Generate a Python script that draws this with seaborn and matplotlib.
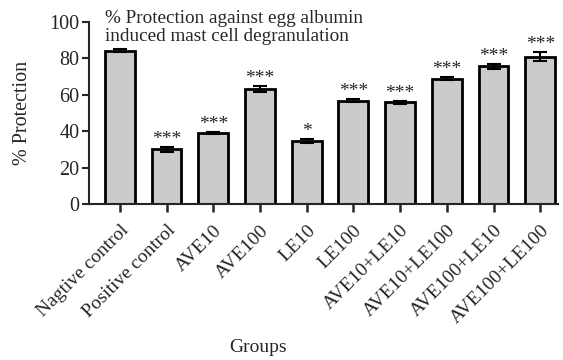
import matplotlib
matplotlib.use("Agg")
import matplotlib.pyplot as plt
import seaborn as sns
import pandas as pd
import numpy as np

groups = ["Nagtive control", "Positive control", "AVE10", "AVE100", "LE10", "LE100",
          "AVE10+LE10", "AVE10+LE100", "AVE100+LE10", "AVE100+LE100"]
protection = [84.3, 30.0, 39.2, 63.3, 34.6, 56.8, 55.8, 68.9, 75.6, 80.8]
errors = [0.6, 1.5, 0.5, 1.5, 1.0, 0.9, 0.9, 1.0, 1.5, 2.5]
stars = ["", "***", "***", "***", "*", "***", "***", "***", "***", "***"]

sns.set_style("ticks")
plt.rcParams["font.family"] = ["Liberation Serif", "DejaVu Serif"]

df = pd.DataFrame({"Groups": groups, "Protection": protection})

fig = plt.figure(figsize=(5.63, 3.6), dpi=100)
ax = fig.add_axes([89/563, 1-204/360, (558-89)/563, (204-22)/360])

sns.barplot(data=df, x="Groups", y="Protection", color="#cbcbcb", edgecolor="black",
            linewidth=2.0, width=0.64, errorbar=None, ax=ax, saturation=1)
xs = np.arange(len(groups))
ax.errorbar(xs, protection, yerr=errors, fmt="none", ecolor="black", elinewidth=1.5,
            capsize=5, capthick=1.5)
for x, v, e, s in zip(xs, protection, errors, stars):
    if s:
        ax.text(x, v + e - 0.5, s, ha="center", va="bottom", fontsize=14)

ax.set_ylim(0, 100)
ax.set_xlim(-0.66, 9.38)
ax.set_yticks([0, 20, 40, 60, 80, 100])
ax.tick_params(axis="x", labelsize=14, width=1.8, length=6, direction="out", pad=7)
ax.tick_params(axis="y", labelsize=14.5, width=1.5, length=5, direction="out", pad=2)
ax.set_xticks(xs)
ax.set_xticklabels(groups, rotation=45, ha="right", rotation_mode="anchor")
for sp in ["left", "bottom"]:
    ax.spines[sp].set_linewidth(1.5)
sns.despine(ax=ax)
ax.set_xlabel("")
ax.set_ylabel("% Protection", fontsize=14.5, labelpad=12)
fig.text(258/563, 1-347/360, "Groups", ha="center", va="center", fontsize=14)
ax.text(0.035, 0.97, "% Protection against egg albumin\ninduced mast cell degranulation",
        transform=ax.transAxes, ha="left", va="center", fontsize=13.8, linespacing=1.12)

fig.savefig("out.png", dpi=100)
